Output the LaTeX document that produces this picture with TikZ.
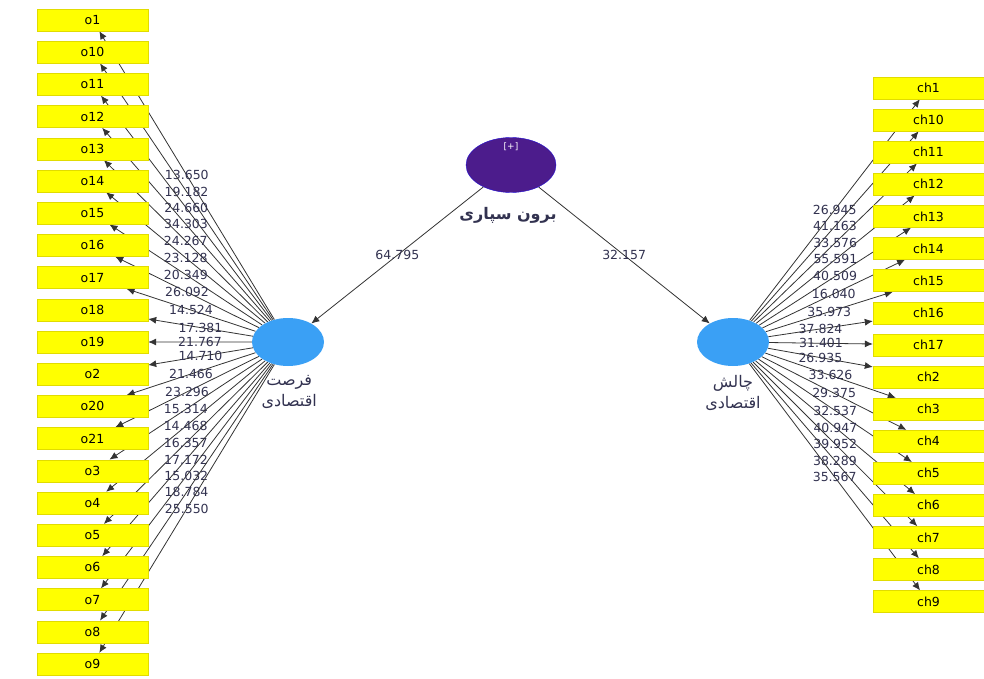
\documentclass[tikz,border=0pt]{standalone}
\usepackage{fontspec}
\usepackage{xcolor}
\setmainfont{DejaVu Sans}
\newfontfamily\persianfont[Script=Arabic]{DejaVu Sans}
\TeXXeTstate=1
\usetikzlibrary{positioning,arrows.meta,backgrounds,shapes}

\definecolor{boxyellow}{RGB}{255,255,0}
\definecolor{boxedge}{RGB}{225,220,0}
\definecolor{latblue}{RGB}{58,160,245}
\definecolor{latpurple}{RGB}{76,28,140}
\definecolor{numcol}{RGB}{50,50,80}

\begin{document}
\begin{tikzpicture}[x=1pt,y=-1pt,
    ind/.style={draw=boxedge, fill=boxyellow, minimum width=111pt, minimum height=22pt,
                inner sep=0pt, font=\fontsize{12.5}{12.5}\selectfont},
    lat/.style={ellipse, fill=latblue, minimum width=72pt, minimum height=48pt, inner sep=0pt},
    load/.style={-{Latex[length=8pt,width=7pt]}, draw=black!80, line width=0.8pt},
    wt/.style={font=\fontsize{12.5}{12.5}\selectfont, text=numcol, inner sep=1pt},
    latlabel/.style={font=\persianfont\fontsize{16}{21}\selectfont, text=numcol, align=center}]
  \useasboundingbox (0,0) rectangle (984,679);

  % latent variables
  \node[ellipse, fill=latpurple, draw=blue!60!latpurple, minimum width=90pt, minimum height=55pt] (boroon) at (511,165) {};
  \node[text=white, font=\fontsize{9}{9}\selectfont] (plus) at (511,147) {[+]};
  \node[latlabel, font=\persianfont\bfseries\fontsize{16}{21}\selectfont] (boroonlbl) at (508,215) {\beginR برون سپاری\endR};
  \node[lat] (forsat) at (288,342) {};
  \node[latlabel, below right=6pt and -30pt of forsat.south] (forsatlbl) {\beginR فرصت\endR\\\beginR اقتصادی\endR};
  \node[lat] (chalesh) at (733,342) {};
  \node[latlabel, below=6pt of chalesh.south] (chaleshlbl) {\beginR چالش\endR\\\beginR اقتصادی\endR};

  % indicators
  \foreach \n [count=\i from 0] in {1,10,11,12,13,14,15,16,17,18,19,2,20,21,3,4,5,6,7,8,9}
    \node[ind] (o\n) at (92.5,20+32.2*\i) {o\n};
  \foreach \n [count=\i from 0] in {1,10,11,12,13,14,15,16,17,2,3,4,5,6,7,8,9}
    \node[ind] (ch\n) at (928.5,88+32.1*\i) {ch\n};

  % paths and loadings
  \begin{scope}[on background layer]
    \draw[load] (boroon) -- node[wt] {64.795} (forsat);
    \draw[load] (boroon) -- node[wt] {32.157} (chalesh);
    \foreach \n/\v in {1/13.650,10/19.182,11/24.660,12/34.303,13/24.267,14/23.128,15/20.349,
                       16/26.092,17/14.524,18/17.381,19/21.767,2/14.710,20/21.466,21/23.296,
                       3/15.314,4/14.468,5/16.357,6/17.172,7/15.032,8/18.784,9/25.550}
      \draw[load] (forsat) -- node[wt] {\v} (o\n);
    \foreach \n/\v in {1/26.945,10/41.163,11/33.576,12/55.591,13/40.509,14/16.040,15/35.973,
                       16/37.824,17/31.401,2/26.935,3/33.626,4/29.375,5/32.537,6/40.947,
                       7/39.952,8/38.289,9/35.567}
      \draw[load] (chalesh) -- node[wt] {\v} (ch\n);
  \end{scope}
\end{tikzpicture}
\end{document}
